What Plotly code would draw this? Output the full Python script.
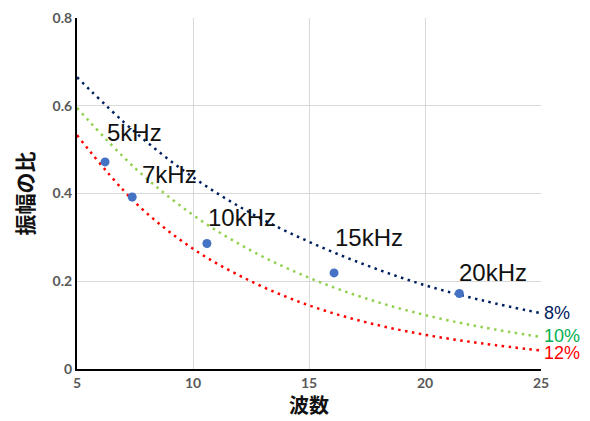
import plotly.graph_objects as go

# Trend curves
curve_x = [5, 7.5, 10, 12.5, 15, 17.5, 20, 22.5, 25]
curve_8 = [0.665, 0.540, 0.437, 0.355, 0.290, 0.236, 0.191, 0.156, 0.127]
curve_10 = [0.595, 0.458, 0.351, 0.270, 0.208, 0.160, 0.123, 0.095, 0.073]
curve_12 = [0.533, 0.380, 0.274, 0.200, 0.145, 0.106, 0.078, 0.058, 0.042]

# Measured points
pt_x = [6.21, 7.38, 10.6, 16.08, 21.48]
pt_y = [0.472, 0.392, 0.286, 0.219, 0.172]
pt_labels = ["5kHz", "7kHz", "10kHz", "15kHz", "20kHz"]
lab_x = [6.29, 7.8, 10.65, 16.12, 21.47]
lab_y = [0.54, 0.444, 0.346, 0.30, 0.221]

series_names = ["8%", "10%", "12%"]
series_end_y = [0.128, 0.076, 0.036]

x_ticks = [5, 10, 15, 20, 25]
y_ticks = [0, 0.2, 0.4, 0.6, 0.8]
y_ticklabels = ["0", "0.2", "0.4", "0.6", "0.8"]
x_title = "波数"
y_title = "振幅の比"

line_colors = ["#002060", "#92D050", "#FF0000"]
label_colors = ["#002060", "#00B050", "#FF0000"]

fig = go.Figure()
for ys, c in zip([curve_8, curve_10, curve_12], line_colors):
    fig.add_trace(go.Scatter(x=curve_x, y=ys, mode="lines", line_shape="spline",
                             line=dict(color=c, width=2.5, dash="2.5px,4.5px"),
                             showlegend=False, hoverinfo="skip"))
fig.add_trace(go.Scatter(x=pt_x, y=pt_y, mode="markers",
                         marker=dict(color="#4472C4", size=9), showlegend=False))

jp = "Noto Sans CJK JP"
narrow = "Liberation Sans Narrow, Liberation Sans, sans-serif"
for t, x, y in zip(pt_labels, lab_x, lab_y):
    fig.add_annotation(x=x, y=y, text=t, showarrow=False, xanchor="left", yanchor="middle",
                       xshift=-2, font=dict(family=narrow, size=24, color="#111111"))
for t, y, c in zip(series_names, series_end_y, label_colors):
    fig.add_annotation(x=25, y=y, text=t, showarrow=False, xanchor="left", yanchor="middle",
                       xshift=1, font=dict(family=narrow, size=18, color=c))

fig.add_annotation(xref="paper", yref="paper", x=0.5, y=0, yshift=-35, text=x_title,
                   showarrow=False, xanchor="center", yanchor="middle",
                   font=dict(family=jp, size=20, color="#111111", weight="bold"))
fig.add_annotation(xref="paper", yref="paper", x=0, y=0.5, xshift=-54, text=y_title,
                   textangle=-90, showarrow=False, xanchor="center", yanchor="middle",
                   font=dict(family=jp, size=21, color="#111111", weight="bold"))

tickfont = dict(family="Lato", size=14, color="#595959", weight="bold")
fig.update_xaxes(range=[5, 25], tickvals=x_ticks, showgrid=True, gridcolor="#D9D9D9",
                 gridwidth=1, showline=True, linecolor="black", linewidth=2,
                 zeroline=False, tickfont=tickfont, ticks="", automargin=False)
fig.update_yaxes(range=[0, 0.8], tickvals=y_ticks, ticktext=y_ticklabels, showgrid=True,
                 gridcolor="#D9D9D9", gridwidth=1, showline=True, linecolor="black",
                 linewidth=2, zeroline=False, tickfont=tickfont, ticks="", automargin=False)
# page body has an 8px margin, so the figure is shrunk and shifted to fit the window
fig.update_layout(width=582, height=413, margin=dict(l=69, r=49, t=10, b=52),
                  plot_bgcolor="white", paper_bgcolor="white")
fig.write_html("out.html")
